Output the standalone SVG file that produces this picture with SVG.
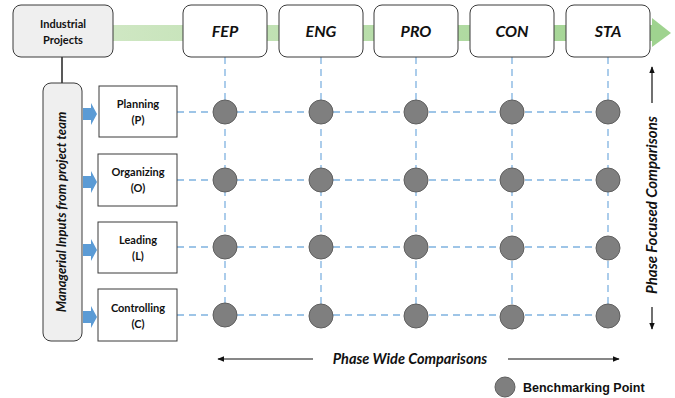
<svg xmlns="http://www.w3.org/2000/svg" width="675" height="398" viewBox="0 0 675 398">
  <defs>
    <linearGradient id="band" x1="0" y1="0" x2="1" y2="0">
      <stop offset="0" stop-color="#cfe7c3"/>
      <stop offset="1" stop-color="#9fd38f"/>
    </linearGradient>
    <marker id="arr" viewBox="0 0 10 10" refX="9" refY="5" markerWidth="7" markerHeight="7" orient="auto-start-reverse" markerUnits="userSpaceOnUse">
      <path d="M0,1 L10,5 L0,9 Z" fill="#111"/>
    </marker>
    <g id="bluearrow">
      <path d="M0,-6 L8,-6 L8,-11 L14,0 L8,11 L8,6 L0,6 Z" fill="#5b9bd5"/>
    </g>
  </defs>
  <style>
    .phase { fill: #ffffff; stroke: #3a3a3a; stroke-width: 1; }
    .phase-t { font-family: Lato, "Open Sans", "Liberation Sans", sans-serif; font-size: 16px; font-weight: bold; font-style: italic; fill: #111; text-anchor: middle; }
    .func { fill: #ffffff; stroke: #3a3a3a; stroke-width: 1; }
    .func-t { font-family: Lato, "Open Sans", "Liberation Sans", sans-serif; font-size: 11px; font-weight: bold; fill: #111; text-anchor: middle; }
    .grey { fill: #efefef; stroke: #3a3a3a; stroke-width: 1; }
    .dash { stroke: #7fb2e0; stroke-width: 1.3; stroke-dasharray: 7 5; fill: none; }
    .pt { fill: #7f7f7f; stroke: #5f5f5f; stroke-width: 1; }
    .lbl { font-family: Lato, "Open Sans", "Liberation Sans", sans-serif; font-weight: bold; font-style: italic; fill: #111; }
  </style>

  <!-- lifecycle band -->
  <g id="band-arrow">
    <rect x="110" y="25" width="544" height="16" fill="url(#band)"/>
    <path d="M652,18 L671,33 L652,47 Z" fill="#9fd38f"/>
  </g>

  <!-- grid connectors -->
  <g id="connectors">
    <line x1="62" y1="57" x2="62" y2="83" stroke="#222" stroke-width="1.5"/>
    <line class="dash" x1="225" y1="57" x2="225" y2="315"/>
    <line class="dash" x1="321" y1="57" x2="321" y2="315"/>
    <line class="dash" x1="416" y1="57" x2="416" y2="315"/>
    <line class="dash" x1="512" y1="57" x2="512" y2="315"/>
    <line class="dash" x1="608" y1="57" x2="608" y2="315"/>
    <line class="dash" x1="177" y1="112" x2="608" y2="112"/>
    <line class="dash" x1="177" y1="180" x2="608" y2="180"/>
    <line class="dash" x1="177" y1="247" x2="608" y2="247"/>
    <line class="dash" x1="177" y1="315" x2="608" y2="315"/>
    <use href="#bluearrow" x="83" y="114"/>
    <use href="#bluearrow" x="83" y="182"/>
    <use href="#bluearrow" x="83" y="250"/>
    <use href="#bluearrow" x="83" y="317"/>
    <line x1="313" y1="359" x2="218" y2="359" stroke="#111" stroke-width="1.2" marker-end="url(#arr)"/>
    <line x1="508" y1="359" x2="619" y2="359" stroke="#111" stroke-width="1.2" marker-end="url(#arr)"/>
    <line x1="652" y1="103" x2="652" y2="67" stroke="#111" stroke-width="1.2" marker-end="url(#arr)"/>
    <line x1="652" y1="307" x2="652" y2="329" stroke="#111" stroke-width="1.2" marker-end="url(#arr)"/>
  </g>

  <g id="industrial-projects">
    <rect class="grey" x="13" y="5" width="100" height="52" rx="8"/>
    <text class="func-t" x="63" y="28" font-size="13">Industrial</text>
    <text class="func-t" x="63" y="44" font-size="13">Projects</text>
  </g>

  <g id="phase-fep"><rect class="phase" x="183" y="5" width="84" height="52" rx="8"/><text class="phase-t" x="225" y="37">FEP</text></g>
  <g id="phase-eng"><rect class="phase" x="279" y="5" width="84" height="52" rx="8"/><text class="phase-t" x="321" y="37">ENG</text></g>
  <g id="phase-pro"><rect class="phase" x="374" y="5" width="84" height="52" rx="8"/><text class="phase-t" x="416" y="37">PRO</text></g>
  <g id="phase-con"><rect class="phase" x="470" y="5" width="84" height="52" rx="8"/><text class="phase-t" x="512" y="37">CON</text></g>
  <g id="phase-sta"><rect class="phase" x="566" y="5" width="84" height="52" rx="8"/><text class="phase-t" x="608" y="37">STA</text></g>

  <g id="managerial-inputs">
    <rect class="grey" x="43" y="83" width="39" height="258" rx="8"/>
    <text class="lbl" font-size="13" text-anchor="middle" transform="translate(66,212) rotate(-90)">Managerial  Inputs from project team</text>
  </g>

  <g id="planning"><rect class="func" x="99" y="86" width="78" height="51"/><text class="func-t" x="138" y="108">Planning</text><text class="func-t" x="138" y="124">(P)</text></g>
  <g id="organizing"><rect class="func" x="98" y="154" width="79" height="52"/><text class="func-t" x="138" y="176">Organizing</text><text class="func-t" x="138" y="192">(O)</text></g>
  <g id="leading"><rect class="func" x="98" y="222" width="79" height="51"/><text class="func-t" x="138" y="244">Leading</text><text class="func-t" x="138" y="260">(L)</text></g>
  <g id="controlling"><rect class="func" x="98" y="289" width="79" height="52"/><text class="func-t" x="138" y="312">Controlling</text><text class="func-t" x="138" y="328">(C)</text></g>

  <g id="benchmark-points">
    <circle class="pt" cx="225" cy="112" r="12"/><circle class="pt" cx="321" cy="112" r="12"/><circle class="pt" cx="416" cy="112" r="12"/><circle class="pt" cx="512" cy="112" r="12"/><circle class="pt" cx="608" cy="112" r="12"/>
    <circle class="pt" cx="225" cy="180" r="12"/><circle class="pt" cx="321" cy="180" r="12"/><circle class="pt" cx="416" cy="180" r="12"/><circle class="pt" cx="512" cy="180" r="12"/><circle class="pt" cx="608" cy="180" r="12"/>
    <circle class="pt" cx="225" cy="247" r="12"/><circle class="pt" cx="321" cy="247" r="12"/><circle class="pt" cx="416" cy="247" r="12"/><circle class="pt" cx="512" cy="248" r="12"/><circle class="pt" cx="608" cy="248" r="12"/>
    <circle class="pt" cx="225" cy="315" r="12"/><circle class="pt" cx="321" cy="316" r="12"/><circle class="pt" cx="416" cy="316" r="12"/><circle class="pt" cx="512" cy="317" r="12"/><circle class="pt" cx="608" cy="316" r="12"/>
  </g>

  <g id="phase-wide">
    <text class="lbl" x="410" y="364" font-size="14.5" text-anchor="middle">Phase Wide Comparisons</text>
  </g>
  <g id="phase-focused">
    <text class="lbl" font-size="15" text-anchor="middle" transform="translate(657,205) rotate(-90)">Phase Focused Comparisons</text>
  </g>

  <g id="legend">
    <circle class="pt" cx="505" cy="387" r="10"/>
    <text x="523" y="392" font-family="'Liberation Sans', Arial, sans-serif" font-size="12.5" font-weight="bold" fill="#111">Benchmarking  Point</text>
  </g>
</svg>
